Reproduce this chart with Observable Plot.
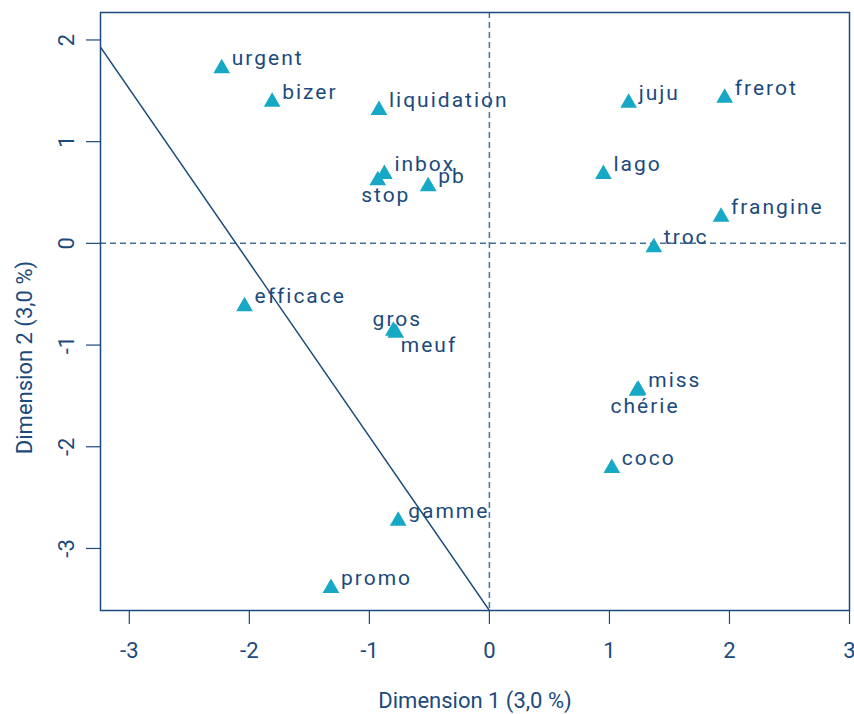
<!DOCTYPE html>
<html>
<head>
<meta charset="utf-8">
<script src="https://cdn.jsdelivr.net/npm/d3@7"></script>
<script src="https://cdn.jsdelivr.net/npm/@observablehq/plot@0.6"></script>
<style>
  html, body { margin: 0; padding: 0; background: #fff; }
  #chart svg { display: block; }
  #chart svg g.wordlab text { letter-spacing: 2px; }
</style>
</head>
<body>
<div id="chart"></div>
<script>
const words = ["urgent","bizer","liquidation","inbox","stop","pb","juju","frerot","lago","frangine","troc","efficace","gros","meuf","miss","chérie","coco","gamme","promo"];
const dim1 = [-2.23,-1.81,-0.92,-0.875,-0.93,-0.51,1.16,1.96,0.95,1.93,1.37,-2.04,-0.80,-0.78,1.24,1.23,1.02,-0.76,-1.32];
const dim2 = [1.72,1.39,1.31,0.68,0.62,0.56,1.38,1.43,0.68,0.26,-0.04,-0.62,-0.86,-0.88,-1.44,-1.45,-2.21,-2.73,-3.39];
const xTicks = [-3,-2,-1,0,1,2,3];
const yTicks = [-3,-2,-1,0,1,2];
const lineX = [-3.24, 0];
const lineY = [1.93, -3.61];
const xTitle = "Dimension 1 (3,0 %)";
const yTitle = "Dimension 2 (3,0 %)";

const below = new Set(["stop","chérie"]);
const above = new Set(["gros"]);
const belowRight = new Set(["meuf"]);

const pts = words.map((w,i) => ({word: w, d1: dim1[i], d2: dim2[i]}));
const lineData = lineX.map((x,i) => ({x, y: lineY[i]}));

const blue = "#1b4a7c";
const dash = "#44719b";
const teal = "#16a8c5";
const tickFont = "Roboto, sans-serif";
const labelFont = "Roboto, 'Open Sans', sans-serif";
const labOpts = {x: "d1", y: "d2", text: "word", fill: blue, fontSize: 21, fontFamily: labelFont, lineAnchor: "middle", className: "wordlab"};

const chart = Plot.plot({
  width: 854,
  height: 714,
  marginLeft: 100,
  marginRight: 5,
  marginTop: 12,
  marginBottom: 104,
  x: {domain: [-3.24, 3.0], label: null},
  y: {domain: [-3.61, 2.27], label: null},
  style: {background: "white", color: blue, fontFamily: labelFont},
  marks: [
    Plot.ruleX([0], {stroke: dash, strokeWidth: 1.5, strokeDasharray: "6,4"}),
    Plot.ruleY([0], {stroke: dash, strokeWidth: 1.5, strokeDasharray: "6,4"}),
    Plot.line(lineData, {x: "x", y: "y", stroke: blue, strokeWidth: 1.5, clip: true}),
    Plot.frame({stroke: blue, strokeWidth: 1.5}),
    Plot.axisX(xTicks, {tickSize: 14, tickFormat: () => "", stroke: blue, strokeWidth: 1.2}),
    Plot.axisY(yTicks, {tickSize: 14, tickFormat: () => "", stroke: blue, strokeWidth: 1.2}),
    Plot.text(xTicks, {x: d => d, frameAnchor: "bottom", dy: 40, lineAnchor: "middle", text: d => String(d), fill: blue, fontSize: 22, fontFamily: tickFont}),
    Plot.text(yTicks, {y: d => d, frameAnchor: "left", dx: -34, rotate: -90, lineAnchor: "middle", textAnchor: "middle", text: d => String(d), fill: blue, fontSize: 22, fontFamily: tickFont}),
    Plot.text([xTitle], {frameAnchor: "bottom", dy: 90, lineAnchor: "middle", text: d => d, fill: blue, fontSize: 22, fontFamily: tickFont}),
    Plot.text([yTitle], {frameAnchor: "left", dx: -76, dy: 46, rotate: -90, lineAnchor: "middle", textAnchor: "middle", text: d => d, fill: blue, fontSize: 22, fontFamily: tickFont}),
    Plot.dot(pts, {x: "d1", y: "d2", symbol: "triangle", r: 6.2, fill: teal, stroke: "none"}),
    Plot.text(pts.filter(d => !below.has(d.word) && !above.has(d.word) && !belowRight.has(d.word)), {...labOpts, textAnchor: "start", dx: 10, dy: -10}),
    Plot.text(pts.filter(d => below.has(d.word)), {...labOpts, textAnchor: "middle", dx: 8, dy: 15}),
    Plot.text(pts.filter(d => above.has(d.word)), {...labOpts, textAnchor: "middle", dx: 4, dy: -12}),
    Plot.text(pts.filter(d => belowRight.has(d.word)), {...labOpts, textAnchor: "start", dx: 5, dy: 12})
  ]
});
document.getElementById("chart").appendChild(chart);
</script>
</body>
</html>
